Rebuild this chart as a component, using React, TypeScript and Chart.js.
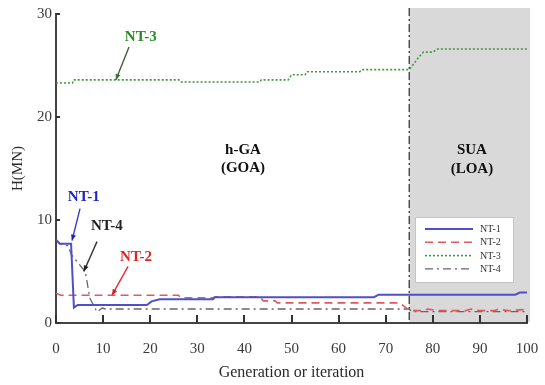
import { useEffect, useRef } from "react";
import { Chart, registerables } from "chart.js";
Chart.register(...registerables);

// ---- data ----
const xTickValues = [0, 10, 20, 30, 40, 50, 60, 70, 80, 90, 100];
const yTickValues = [0, 10, 20, 30];

const nt1X = [0, 0.8, 3.2, 3.8, 4.6, 19.3, 20.3, 22, 33.3, 33.8, 67.5, 68.5, 97.5, 98.5, 100];
const nt1Y = [8.1, 7.7, 7.7, 1.5, 1.75, 1.75, 2.1, 2.3, 2.3, 2.5, 2.5, 2.75, 2.75, 2.95, 2.95];

const nt2X = [0, 1, 26, 26.5, 33.3, 33.8, 43.3, 44, 46.5, 47, 73, 74.8, 75.5, 78, 79, 81, 87, 88, 90, 93, 94, 96, 99, 100];
const nt2Y = [2.9, 2.7, 2.7, 2.45, 2.45, 2.55, 2.55, 2.15, 2.15, 1.95, 1.95, 1.3, 1.2, 1.2, 1.35, 1.2, 1.2, 1.35, 1.2, 1.2, 1.35, 1.2, 1.3, 1.1];

const nt3X = [0, 3.5, 3.7, 26.3, 26.6, 43.3, 43.6, 49.3, 50, 52.9, 53.3, 64.5, 65, 75, 77, 78, 80, 81, 100];
const nt3Y = [23.3, 23.3, 23.6, 23.6, 23.4, 23.4, 23.6, 23.6, 24.1, 24.1, 24.4, 24.4, 24.6, 24.6, 25.8, 26.3, 26.3, 26.6, 26.6];

const nt4X = [0, 0.8, 2.5, 3.3, 6.2, 7.2, 8.7, 9.8, 10.5, 75, 75.5, 100];
const nt4Y = [8.1, 7.7, 7.5, 6.6, 5.0, 2.4, 1.07, 1.45, 1.36, 1.36, 1.1, 1.1];

const seriesNames = ["NT-1", "NT-2", "NT-3", "NT-4"];
const regionStart = 75;

// annotation texts (data coordinates)
const labels = [
  { text: "NT-3", x: 18.0, y: 27.8, color: "#2a8a2a" },
  { text: "NT-1", x: 5.9, y: 12.2, color: "#2323c8" },
  { text: "NT-4", x: 10.8, y: 9.4, color: "#222222" },
  { text: "NT-2", x: 17.0, y: 6.4, color: "#e02424" },
  { text: "h-GA", x: 39.7, y: 16.8, color: "#111111" },
  { text: "(GOA)", x: 39.7, y: 15.0, color: "#111111" },
  { text: "SUA", x: 88.3, y: 16.8, color: "#111111" },
  { text: "(LOA)", x: 88.3, y: 14.9, color: "#111111" },
];
const arrows = [
  { x1: 15.5, y1: 26.8, x2: 12.7, y2: 23.6, color: "#4a5a4a", head: "#2a7a2a" },
  { x1: 5.1, y1: 11.1, x2: 3.4, y2: 8.0, color: "#3a3ad0", head: "#2020c0" },
  { x1: 8.7, y1: 7.9, x2: 5.9, y2: 5.0, color: "#333333", head: "#222222" },
  { x1: 15.3, y1: 5.5, x2: 11.9, y2: 2.7, color: "#e03030", head: "#d02020" },
];

const SERIF = "'Liberation Serif', 'DejaVu Serif', serif";

const toPts = (xs: number[], ys: number[]) => xs.map((x, i) => ({ x, y: ys[i] }));

const decorPlugin = {
  id: "decor",
  beforeDatasetsDraw(chart: any) {
    const { ctx, chartArea, scales } = chart;
    const xs = scales.x;
    const x0 = xs.getPixelForValue(regionStart);
    const x1 = chartArea.right + 3;
    ctx.save();
    ctx.fillStyle = "#d9d9d9";
    ctx.fillRect(x0, chartArea.top - 6, x1 - x0, chartArea.bottom - 1 - (chartArea.top - 6));
    ctx.strokeStyle = "#444444";
    ctx.lineWidth = 1.4;
    ctx.setLineDash([8, 3, 2, 3]);
    ctx.beginPath();
    ctx.moveTo(x0, chartArea.top - 6);
    ctx.lineTo(x0, chartArea.bottom);
    ctx.stroke();
    ctx.restore();
  },
  afterDatasetsDraw(chart: any) {
    const { ctx, chartArea, scales } = chart;
    const xs = scales.x;
    const ys = scales.y;
    ctx.save();
    // inward ticks
    ctx.strokeStyle = "#333333";
    ctx.lineWidth = 2;
    ctx.setLineDash([]);
    xTickValues.forEach((v) => {
      const px = Math.round(xs.getPixelForValue(v));
      ctx.beginPath();
      ctx.moveTo(px, chartArea.bottom);
      ctx.lineTo(px, chartArea.bottom - 8);
      ctx.stroke();
    });
    yTickValues.forEach((v) => {
      const py = Math.round(ys.getPixelForValue(v));
      ctx.beginPath();
      ctx.moveTo(chartArea.left, py);
      ctx.lineTo(chartArea.left + 4, py);
      ctx.stroke();
    });
    // arrows
    arrows.forEach((a) => {
      const sx = xs.getPixelForValue(a.x1);
      const sy = ys.getPixelForValue(a.y1);
      const ex = xs.getPixelForValue(a.x2);
      const ey = ys.getPixelForValue(a.y2);
      ctx.strokeStyle = a.color;
      ctx.lineWidth = 1.4;
      ctx.beginPath();
      ctx.moveTo(sx, sy);
      ctx.lineTo(ex, ey);
      ctx.stroke();
      const ang = Math.atan2(ey - sy, ex - sx);
      const L = 6;
      const W = 2.5;
      ctx.fillStyle = a.head;
      ctx.beginPath();
      ctx.moveTo(ex, ey);
      ctx.lineTo(ex - L * Math.cos(ang) + W * Math.sin(ang), ey - L * Math.sin(ang) - W * Math.cos(ang));
      ctx.lineTo(ex - L * Math.cos(ang) - W * Math.sin(ang), ey - L * Math.sin(ang) + W * Math.cos(ang));
      ctx.closePath();
      ctx.fill();
    });
    // labels
    ctx.font = `bold 15px ${SERIF}`;
    ctx.textAlign = "center";
    ctx.textBaseline = "middle";
    labels.forEach((l) => {
      ctx.fillStyle = l.color;
      ctx.fillText(l.text, xs.getPixelForValue(l.x), ys.getPixelForValue(l.y));
    });
    // legend
    const bx = chartArea.right - 112;
    const by = 217;
    const bw = 98;
    const bh = 65;
    ctx.fillStyle = "#ffffff";
    ctx.fillRect(bx, by, bw, bh);
    ctx.strokeStyle = "#c4c4c4";
    ctx.lineWidth = 1;
    ctx.strokeRect(bx + 0.5, by + 0.5, bw, bh);
    ctx.font = `10px ${SERIF}`;
    ctx.textAlign = "left";
    chart.data.datasets.forEach((ds: any, i: number) => {
      const yy = by + 12 + i * 13.3;
      ctx.strokeStyle = ds.borderColor;
      ctx.lineWidth = ds.borderWidth;
      ctx.setLineDash(ds.borderDash || []);
      ctx.beginPath();
      ctx.moveTo(bx + 10, yy);
      ctx.lineTo(bx + 58, yy);
      ctx.stroke();
      ctx.setLineDash([]);
      ctx.fillStyle = "#333333";
      ctx.fillText(ds.label, bx + 65, yy + 0.5);
    });
    ctx.restore();
  },
};

export default function App() {
  const ref = useRef<HTMLCanvasElement>(null);
  useEffect(() => {
    document.body.style.margin = "0";
    const chart = new Chart(ref.current!, {
      type: "line",
      data: {
        datasets: [
          {
            label: seriesNames[0],
            data: toPts(nt1X, nt1Y),
            borderColor: "#4f4fc8",
            borderWidth: 2,
            pointRadius: 0,
          },
          {
            label: seriesNames[1],
            data: toPts(nt2X, nt2Y),
            borderColor: "#e05a5a",
            borderWidth: 1.6,
            borderDash: [8, 5],
            pointRadius: 0,
          },
          {
            label: seriesNames[2],
            data: toPts(nt3X, nt3Y),
            borderColor: "#3d9a3d",
            borderWidth: 1.6,
            borderDash: [2, 2],
            pointRadius: 0,
          },
          {
            label: seriesNames[3],
            data: toPts(nt4X, nt4Y),
            borderColor: "#666666",
            borderWidth: 1.3,
            borderDash: [8, 4, 2, 4],
            pointRadius: 0,
          },
        ] as any,
      },
      options: {
        responsive: false,
        animation: false,
        layout: { padding: { top: 14, right: 18, left: 0, bottom: 0 } },
        plugins: { legend: { display: false }, tooltip: { enabled: false } },
        scales: {
          x: {
            type: "linear",
            min: 0,
            max: 100,
            afterBuildTicks: (s: any) => {
              s.ticks = xTickValues.map((v) => ({ value: v }));
            },
            afterFit: (s: any) => {
              s.height = 62;
              s.paddingLeft = 0;
              s.paddingRight = 0;
            },
            grid: { display: false, drawTicks: false },
            border: { display: true, color: "#444444", width: 2 },
            ticks: {
              padding: 17,
              color: "#3a3a3a",
              font: { family: SERIF, size: 15 },
              maxRotation: 0,
            },
            title: {
              display: true,
              text: "Generation or iteration",
              color: "#2a2a2a",
              font: { family: SERIF, size: 16 },
              padding: { top: 0, bottom: 3 },
            },
          },
          y: {
            type: "linear",
            min: 0,
            max: 30,
            afterBuildTicks: (s: any) => {
              s.ticks = yTickValues.map((v) => ({ value: v }));
            },
            afterFit: (s: any) => {
              s.width = 56;
              s.paddingTop = 0;
              s.paddingBottom = 0;
            },
            grid: { display: false, drawTicks: false },
            border: { display: true, color: "#444444", width: 2 },
            ticks: {
              padding: 4,
              color: "#3a3a3a",
              font: { family: SERIF, size: 15 },
            },
            title: {
              display: true,
              text: "H(MN)",
              color: "#2a2a2a",
              font: { family: SERIF, size: 15 },
              padding: { top: 9, bottom: 0 },
            },
          },
        },
      } as any,
      plugins: [decorPlugin],
    });
    return () => chart.destroy();
  }, []);
  return (
    <div style={{ width: 545, height: 385 }}>
      <canvas ref={ref} width={545} height={385} style={{ display: "block" }} />
    </div>
  );
}
